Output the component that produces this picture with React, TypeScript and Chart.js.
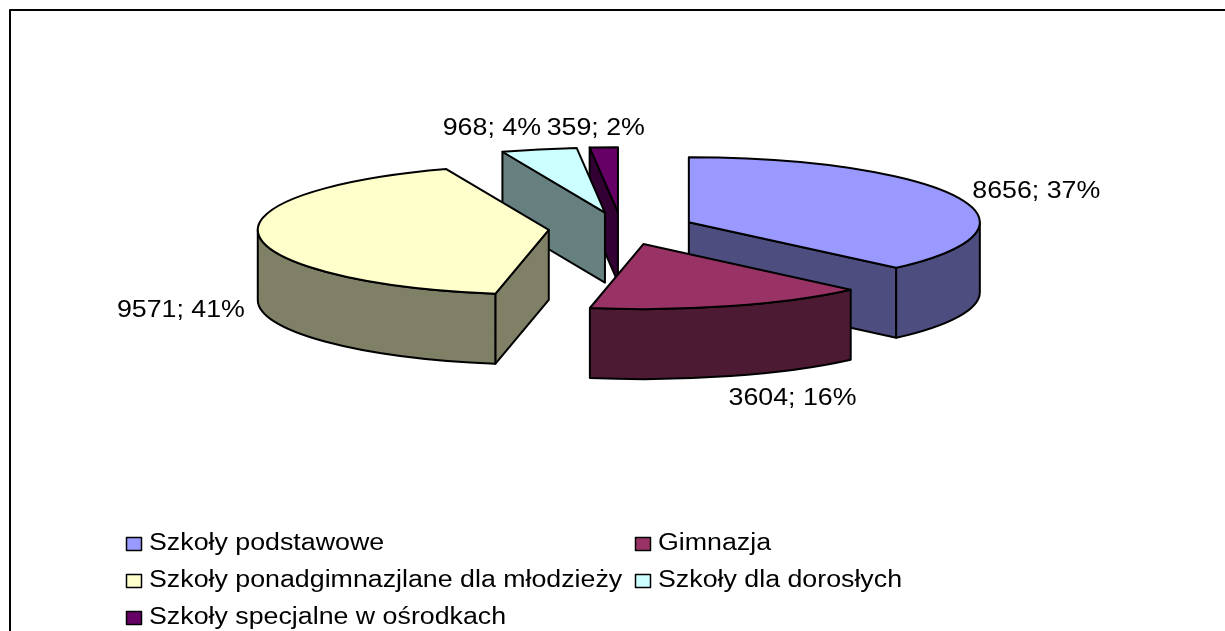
import React, { useEffect, useRef } from "react";
import { Chart, registerables } from "chart.js";

Chart.register(...registerables);

const categories = [
  "Szkoły podstawowe",
  "Gimnazja",
  "Szkoły ponadgimnazjlane dla młodzieży",
  "Szkoły dla dorosłych",
  "Szkoły specjalne w ośrodkach",
];
const schoolValues = [8656, 3604, 9571, 968, 359];
const percentLabels = ["37%", "16%", "41%", "4%", "2%"];
const topColors = ["#9999FF", "#993366", "#FFFFCC", "#CCFFFF", "#660066"];
const wallColors = ["#4D4D80", "#4D1A33", "#808066", "#668080", "#330033"];

const FONT = '23px "Liberation Sans", Arial, sans-serif';
const TEXT_STRETCH = 1.164;
const view = { cx: 621.5, cy: 228.5, tilt: 0.2235, explode: 73, depth: 70 };
const labelNudge = [
  { x: 15, y: -5, align: "left" },
  { x: 62, y: 93, align: "center" },
  { x: -14, y: 75, align: "right" },
  { x: 2, y: -21, align: "right" },
  { x: -8, y: -19, align: "center" },
];
const paintOrder = [4, 3, 2, 0, 1];

function wideText(ctx: CanvasRenderingContext2D, text: string, x: number, y: number) {
  ctx.save();
  ctx.translate(x, y);
  ctx.scale(TEXT_STRETCH, 1);
  ctx.fillText(text, 0, 0);
  ctx.restore();
}

function geometry(arc: any) {
  const mid = (arc.startAngle + arc.endAngle) / 2;
  const r = arc.outerRadius;
  return {
    a: arc.startAngle,
    b: arc.endAngle,
    r,
    ry: r * view.tilt,
    mid,
    sx: view.cx + Math.cos(mid) * view.explode,
    sy: view.cy + Math.sin(mid) * view.explode * view.tilt,
  };
}

function strokeFill(ctx: CanvasRenderingContext2D, color: string) {
  ctx.fillStyle = color;
  ctx.fill();
  ctx.strokeStyle = "#000";
  ctx.lineWidth = 2;
  ctx.lineJoin = "round";
  ctx.stroke();
}

function drawRadialWall(ctx: CanvasRenderingContext2D, g: any, angle: number, color: string) {
  const px = g.sx + Math.cos(angle) * g.r;
  const py = g.sy + Math.sin(angle) * g.ry;
  ctx.beginPath();
  ctx.moveTo(g.sx, g.sy);
  ctx.lineTo(px, py);
  ctx.lineTo(px, py + view.depth);
  ctx.lineTo(g.sx, g.sy + view.depth);
  ctx.closePath();
  strokeFill(ctx, color);
}

function drawOuterWall(ctx: CanvasRenderingContext2D, g: any, color: string) {
  const tau = Math.PI * 2;
  for (const shift of [-tau, 0, tau]) {
    const from = Math.max(g.a + shift, 0);
    const to = Math.min(g.b + shift, Math.PI);
    if (to <= from) continue;
    ctx.beginPath();
    ctx.ellipse(g.sx, g.sy, g.r, g.ry, 0, from, to);
    ctx.ellipse(g.sx, g.sy + view.depth, g.r, g.ry, 0, to, from, true);
    ctx.closePath();
    strokeFill(ctx, color);
  }
}

const pie3d = {
  id: "pie3d",
  beforeDatasetDraw(chart: any) {
    const ctx: CanvasRenderingContext2D = chart.ctx;
    const arcs = chart.getDatasetMeta(0).data;

    // sides, back to front
    paintOrder.forEach((i) => {
      const g = geometry(arcs[i]);
      if (-Math.cos(g.a) > 1e-6) drawRadialWall(ctx, g, g.a, wallColors[i]);
      if (Math.cos(g.b) > 1e-6) drawRadialWall(ctx, g, g.b, wallColors[i]);
      drawOuterWall(ctx, g, wallColors[i]);
    });

    // top faces: the library's own arc elements, flattened and pulled out
    arcs.forEach((arc: any, i: number) => {
      const g = geometry(arc);
      ctx.save();
      ctx.setTransform(1, 0, 0, view.tilt, g.sx - arc.x, g.sy - arc.y * view.tilt);
      arc.draw(ctx);
      ctx.restore();
      ctx.beginPath();
      ctx.moveTo(g.sx, g.sy);
      ctx.ellipse(g.sx, g.sy, g.r, g.ry, 0, g.a, g.b);
      ctx.closePath();
      ctx.strokeStyle = "#000";
      ctx.lineWidth = 2;
      ctx.lineJoin = "round";
      ctx.stroke();
    });
    return false;
  },
  afterDraw(chart: any) {
    const ctx: CanvasRenderingContext2D = chart.ctx;
    const arcs = chart.getDatasetMeta(0).data;
    ctx.save();
    ctx.font = FONT;
    ctx.fillStyle = "#000";
    ctx.textBaseline = "middle";
    arcs.forEach((arc: any, i: number) => {
      const g = geometry(arc);
      const n = labelNudge[i];
      ctx.textAlign = n.align as CanvasTextAlign;
      wideText(
        ctx,
        `${schoolValues[i]}; ${percentLabels[i]}`,
        g.sx + Math.cos(g.mid) * g.r + n.x,
        g.sy + Math.sin(g.mid) * g.ry + n.y
      );
    });

    // chart frame, open at the bottom where the picture is cut off
    ctx.strokeStyle = "#000";
    ctx.lineWidth = 2;
    ctx.beginPath();
    ctx.moveTo(10, 631);
    ctx.lineTo(10, 10);
    ctx.lineTo(1225, 10);
    ctx.stroke();

    // legend in two columns
    const cols = [126, 635];
    const rows = [544, 581, 618];
    categories.forEach((name, i) => {
      const x = cols[i % 2];
      const y = rows[Math.floor(i / 2)];
      ctx.fillStyle = topColors[i];
      ctx.fillRect(x + 0.5, y - 6.5, 15, 13);
      ctx.strokeStyle = "#000";
      ctx.lineWidth = 1.5;
      ctx.strokeRect(x + 0.5, y - 6.5, 15, 13);
      ctx.fillStyle = "#000";
      ctx.textAlign = "left";
      wideText(ctx, name, x + 23, y);
    });
    ctx.restore();
  },
};

export default function App() {
  const ref = useRef<HTMLCanvasElement>(null);
  useEffect(() => {
    const chart = new Chart(ref.current!, {
      type: "pie",
      data: {
        labels: categories,
        datasets: [
          {
            data: schoolValues,
            backgroundColor: topColors,
            borderWidth: 0,
            radius: 291,
            clip: false,
          } as any,
        ],
      },
      options: {
        animation: false,
        responsive: false,
        events: [],
        rotation: 0,
        plugins: { legend: { display: false }, tooltip: { enabled: false } },
      },
      plugins: [pie3d as any],
    });
    return () => chart.destroy();
  }, []);
  return (
    <div style={{ position: "fixed", left: 0, top: 0, width: 1225, height: 631, background: "#fff", overflow: "hidden" }}>
      <canvas ref={ref} width={1225} height={631} style={{ display: "block" }} />
    </div>
  );
}
